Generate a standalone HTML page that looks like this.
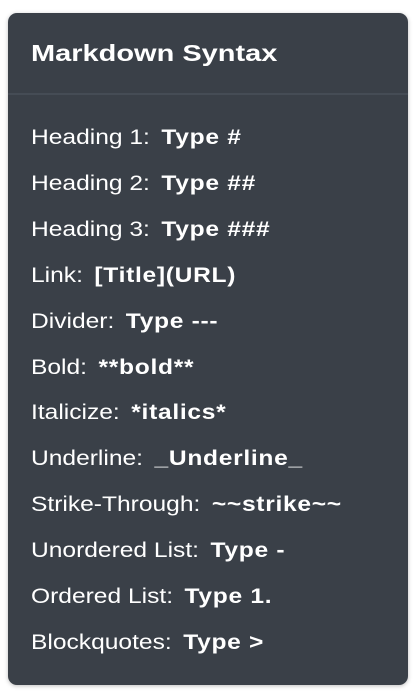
<!DOCTYPE html>
<html><head><style>
body{margin:0;width:418px;height:694px;background:#fff;font-family:"Liberation Sans",sans-serif;overflow:hidden}
.card{position:absolute;left:8px;top:13px;width:400px;height:672px;background:#3a4048;border-radius:9px;box-shadow:0 1px 4px rgba(0,0,0,.25);color:#fff}
.t{position:absolute;left:23px;top:27px;font-size:23px;font-weight:bold;transform:scaleX(1.26);transform-origin:left}
.d{position:absolute;left:0;right:0;top:80px;height:2px;background:#454c55}
.r{position:absolute;left:23px;font-size:21px;line-height:24px;white-space:nowrap;transform:scaleX(1.17);transform-origin:left}
.r b{margin-left:4px;letter-spacing:0.6px}
</style></head><body><div class="card">
<div class="t">Markdown Syntax</div><div class="d"></div>
<div class="r" style="top:113px">Heading 1: <b>Type #</b></div>
<div class="r" style="top:159px">Heading 2: <b>Type ##</b></div>
<div class="r" style="top:205px">Heading 3: <b>Type ###</b></div>
<div class="r" style="top:251px">Link: <b>[Title](URL)</b></div>
<div class="r" style="top:297px">Divider: <b>Type ---</b></div>
<div class="r" style="top:343px">Bold: <b>**bold**</b></div>
<div class="r" style="top:388px">Italicize: <b>*italics*</b></div>
<div class="r" style="top:434px">Underline: <b>_Underline_</b></div>
<div class="r" style="top:480px">Strike-Through: <b>~~strike~~</b></div>
<div class="r" style="top:526px">Unordered List: <b>Type -</b></div>
<div class="r" style="top:572px">Ordered List: <b>Type 1.</b></div>
<div class="r" style="top:618px">Blockquotes: <b>Type &gt;</b></div>
</div></body></html>
